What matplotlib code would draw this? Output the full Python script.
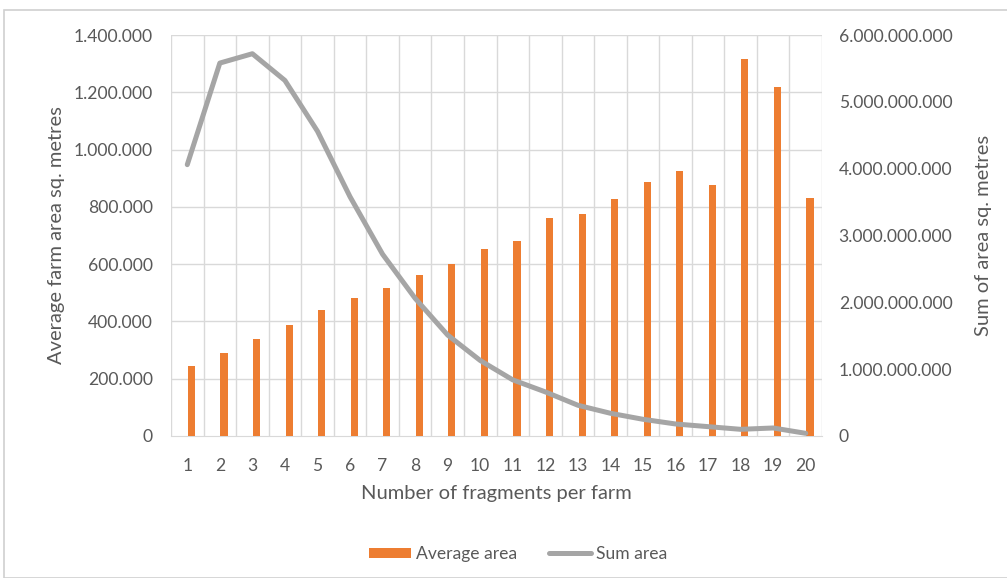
import matplotlib.pyplot as plt
from matplotlib.patches import Rectangle
from matplotlib.ticker import FuncFormatter

plt.rcParams['font.family'] = ['Lato', 'DejaVu Sans']

# data
fragments = list(range(1, 21))
average_area = [245000, 289000, 338000, 386000, 439000, 481000, 518000, 563000, 601000, 654000,
                680000, 762000, 774000, 826000, 887000, 924000, 876000, 1316000, 1218000, 830000]
sum_area = [4.06e9, 5.58e9, 5.72e9, 5.32e9, 4.56e9, 3.58e9, 2.72e9, 2.06e9, 1.51e9, 1.13e9,
            0.84e9, 0.66e9, 0.46e9, 0.34e9, 0.25e9, 0.18e9, 0.14e9, 0.10e9, 0.12e9, 0.04e9]

text_col = '#595959'
grid_col = '#D9D9D9'
orange = '#ED7D31'
gray = '#A5A5A5'


def dots(v, pos):
    return f'{int(round(v)):,}'.replace(',', '.')


fig = plt.figure(figsize=(10.07, 5.78), dpi=100)
fig.patches.append(Rectangle((4 / 1007, 0.0), 1.1, 1 - 10 / 578, transform=fig.transFigure,
                             fill=False, edgecolor='#D0D0D0', lw=1.2))

ax = fig.add_axes([171 / 1007, 1 - 436 / 578, 651 / 1007, 401 / 578])
ax2 = ax.twinx()

ax.bar([x + 0.13 for x in fragments], average_area, width=0.22, color=orange, zorder=3,
       label='Average area')
ax2.plot(fragments, sum_area, color=gray, lw=3.6, solid_capstyle='round', label='Sum area', zorder=3)

ax.set_xlim(0.5, 20.5)
ax.set_ylim(0, 1400000)
ax2.set_ylim(0, 6e9)
ax.set_yticks(range(0, 1400001, 200000))
ax2.set_yticks([i * 1e9 for i in range(7)])
ax.yaxis.set_major_formatter(FuncFormatter(dots))
ax2.yaxis.set_major_formatter(FuncFormatter(dots))
ax.set_xticks(fragments)

# gridlines: horizontal on the left scale, vertical between categories
for y in range(200000, 1400001, 200000):
    ax.axhline(y, color=grid_col, lw=1, zorder=0)
for b in range(21):
    ax.axvline(b + 0.5, color=grid_col, lw=1, zorder=0)

for a in (ax, ax2):
    for s in a.spines.values():
        s.set_visible(False)
    a.tick_params(length=0, colors=text_col, labelsize=12.6)
ax.spines['bottom'].set_visible(True)
ax.spines['bottom'].set_color(grid_col)
ax.tick_params(axis='y', pad=13)
ax.tick_params(axis='x', pad=16)
ax2.tick_params(axis='y', pad=12)

ax.set_xlabel('Number of fragments per farm', color=text_col, fontsize=14.5, labelpad=8)
ax.set_ylabel('Average farm area sq. metres', color=text_col, fontsize=14.5, labelpad=6)
ax2.set_ylabel('Sum of area sq. metres', color=text_col, fontsize=14.5, labelpad=16)

h1, l1 = ax.get_legend_handles_labels()
h2, l2 = ax2.get_legend_handles_labels()
fig.legend(h1 + h2, l1 + l2, loc='center', bbox_to_anchor=(518 / 1007, 1 - 554 / 578), ncol=2,
           frameon=False, fontsize=12.6, labelcolor=text_col, handlelength=2.4,
           handletextpad=0.3, columnspacing=1.8, handleheight=0.5)

fig.savefig('out.png', dpi=100)
